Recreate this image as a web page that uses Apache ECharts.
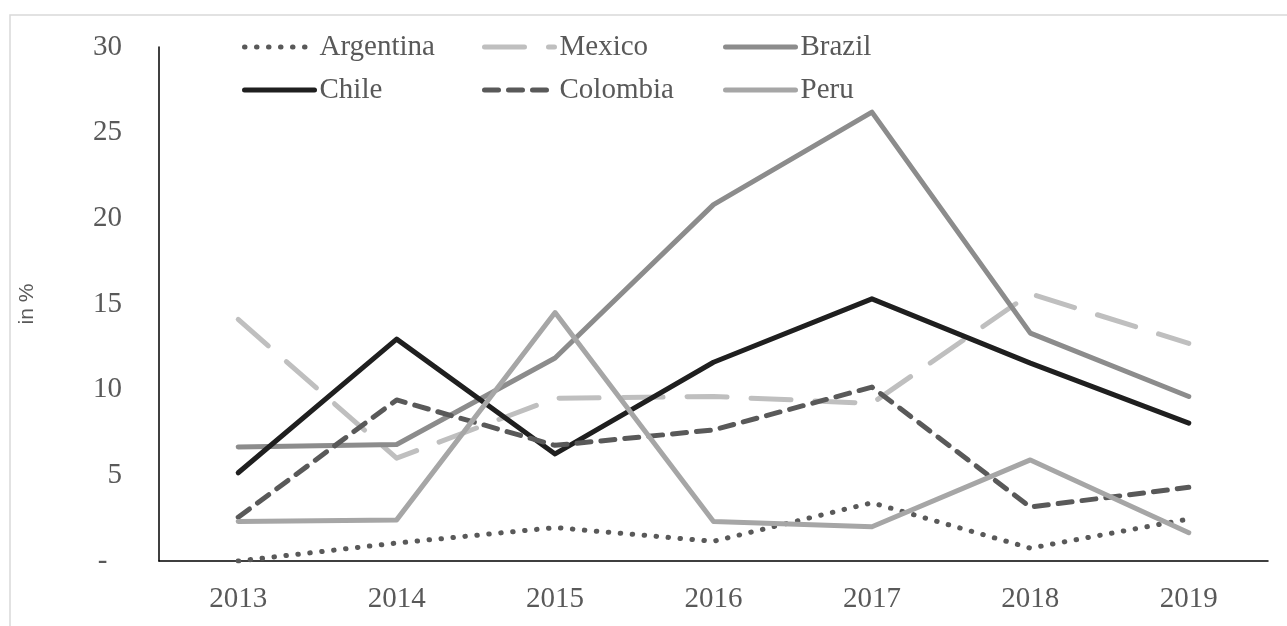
<!DOCTYPE html>
<html>
<head>
<meta charset="utf-8">
<script src="https://cdn.jsdelivr.net/npm/echarts@6/dist/echarts.min.js"></script>
<style>
  html, body { margin: 0; padding: 0; background: #fff; }
  #chart { width: 1287px; height: 626px; }
</style>
</head>
<body>
<div id="chart"></div>
<script>
const years = ['2013', '2014', '2015', '2016', '2017', '2018', '2019']
const argentina = [0, 1.05, 1.95, 1.15, 3.4, 0.75, 2.45]
const mexico = [14.1, 6.0, 9.5, 9.6, 9.2, 15.6, 12.7]
const brazil = [6.65, 6.8, 11.85, 20.8, 26.2, 13.3, 9.6]
const chile = [5.15, 12.95, 6.25, 11.6, 15.3, 11.55, 8.05]
const colombia = [2.55, 9.4, 6.75, 7.65, 10.15, 3.15, 4.3]
const peru = [2.3, 2.4, 14.5, 2.3, 2.0, 5.9, 1.65]

const serif = '"Liberation Serif", "Times New Roman", serif'
const textGray = '#595959'

const seriesDefs = [
  { name: 'Argentina', data: argentina, color: '#595959', type: [0.5, 11.5] },
  { name: 'Mexico', data: mexico, color: '#bfbfbf', type: [40, 24] },
  { name: 'Brazil', data: brazil, color: '#8c8c8c', type: 'solid' },
  { name: 'Chile', data: chile, color: '#1f1f1f', type: 'solid' },
  { name: 'Colombia', data: colombia, color: '#595959', type: [14, 10] },
  { name: 'Peru', data: peru, color: '#a6a6a6', type: 'solid' },
]

// legend slots: 3 columns x 2 rows
const legendCols = [242, 482, 723]
const legendRows = [32, 75]

const chart = echarts.init(document.getElementById('chart'))

chart.setOption({
  backgroundColor: '#fff',
  animation: false,
  graphic: [{
    type: 'rect',
    shape: { x: 10, y: 15, width: 1400, height: 800 },
    style: { fill: 'none', stroke: '#d9d9d9', lineWidth: 1.5 },
  }],
  legend: seriesDefs.map((s, i) => ({
    data: [s.name],
    left: legendCols[i % 3],
    top: legendRows[Math.floor(i / 3)],
    itemWidth: 70,
    itemHeight: 14,
    itemGap: 0,
    padding: 0,
    itemStyle: { opacity: 0 },
    lineStyle: { color: s.color, width: 5, type: s.type, cap: 'round' },
    textStyle: { fontFamily: serif, fontSize: 29, color: textGray, lineHeight: 30 },
  })),
  grid: { left: 159, right: 19, top: 47, bottom: 65 },
  xAxis: {
    type: 'category',
    data: years,
    axisLine: { lineStyle: { color: '#000', width: 1.5 } },
    axisTick: { show: false },
    axisLabel: { fontFamily: serif, fontSize: 29, color: textGray, margin: 24 },
  },
  yAxis: {
    type: 'value',
    min: 0,
    max: 30,
    interval: 5,
    name: 'in %',
    nameLocation: 'middle',
    nameGap: 121,
    nameTextStyle: { fontFamily: '"Liberation Sans", Arial, sans-serif', fontSize: 21, color: textGray },
    axisLine: { show: true, lineStyle: { color: '#000', width: 1.5 } },
    axisTick: { show: false },
    splitLine: { show: false },
    axisLabel: {
      fontFamily: serif, fontSize: 29, color: textGray, margin: 37,
      formatter: v => v === 0 ? '-\u00a0\u00a0' : String(v),
    },
  },
  series: seriesDefs.map(s => ({
    name: s.name,
    type: 'line',
    data: s.data,
    symbol: 'none',
    color: s.color,
    lineStyle: { color: s.color, width: 5, type: s.type, cap: 'round', join: 'round' },
  })),
})
</script>
</body>
</html>
